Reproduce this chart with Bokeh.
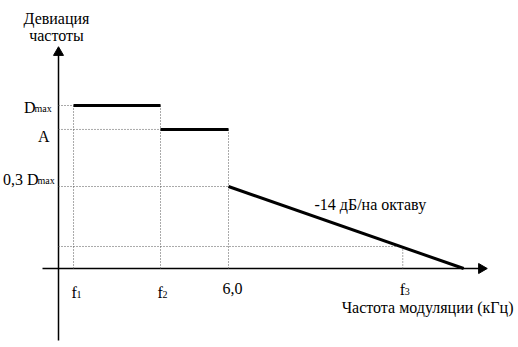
import math
from bokeh.plotting import figure
from bokeh.models import Range1d, Label
from bokeh.embed import file_html
from bokeh.resources import INLINE

# ---------------- data ----------------
# frequency marks on the x axis (kHz, schematic)
freq_labels = ["f", "f", "6,0", "f"]
freq_subs = ["1", "2", "", "3"]
freq_khz = [0.53, 3.6, 6.0, 12.15]
f_zero = 14.3          # where the -14 dB/octave slope meets the axis

# deviation levels (normalised, schematic)
level_main = ["D", "A", "0,3 D"]
level_subs = ["max", "", "max"]
level_vals = [1.0, 0.853, 0.503]
f3_level = 0.135

# plateau segments
plateau_x0 = [freq_khz[0], freq_khz[1]]
plateau_x1 = [freq_khz[1], freq_khz[2]]
plateau_y = [level_vals[0], level_vals[1]]
# sloped segment
slope_x = [freq_khz[2], f_zero]
slope_y = [level_vals[2], 0.0]

y_title = ["Девиация", "частоты"]
x_title = "Частота модуляции (кГц)"
slope_note = "-14 дБ/на октаву"

# ---------------- layout ----------------
W, H = 518, 347
OX, OY = 58, 268            # pixel position of the origin
KX = 170 / 6.0              # px per kHz
KY = 163.0                  # px per deviation unit

p = figure(width=W, height=H, output_backend="svg", toolbar_location=None,
           x_range=Range1d(-OX / KX, (W - OX) / KX),
           y_range=Range1d(-(H - OY) / KY, OY / KY),
           x_axis_type=None, y_axis_type=None, min_border=0)
p.grid.visible = False
p.outline_line_color = None

DOT = dict(line_color="#555555", line_width=1, line_dash="1 2")

# axes (lines + triangular arrow heads)
x_axis_start, x_axis_end = -16 / KX, 427 / KX
y_axis_start, y_axis_end = -72 / KY, 220 / KY
p.segment(x0=[x_axis_start, 0], y0=[0, y_axis_start],
          x1=[x_axis_end, 0], y1=[0, y_axis_end],
          line_color="black", line_width=1.5)
p.scatter(x=[x_axis_end - 4 / KX], y=[0], marker="triangle", size=10,
          angle=-math.pi / 2, fill_color="black", line_color="black")
p.scatter(x=[0], y=[y_axis_end - 4 / KY], marker="triangle", size=10,
          fill_color="black", line_color="black")

# dotted guides: horizontal
h_x0 = [0, 0, 0, 0]
h_x1 = [freq_khz[0], freq_khz[1], freq_khz[2], freq_khz[3]]
h_y = [level_vals[0], level_vals[1], level_vals[2], f3_level]
p.segment(x0=h_x0, y0=h_y, x1=h_x1, y1=h_y, **DOT)
# dotted guides: vertical
v_x = freq_khz
v_top = [level_vals[0], level_vals[0], level_vals[1], f3_level]
p.segment(x0=v_x, y0=[0] * 4, x1=v_x, y1=v_top, **DOT)

# response curve
p.segment(x0=plateau_x0, y0=plateau_y, x1=plateau_x1, y1=plateau_y,
          line_color="black", line_width=3)
p.line(slope_x, slope_y, line_color="black", line_width=3)


def label(x, y, text, dx, dy, size=16, align="left"):
    """dx: pixels to the right, dy: pixels downward from the data anchor."""
    p.add_layout(Label(x=x, y=y, text=text, x_offset=dx, y_offset=-dy,
                       text_font="Liberation Serif", text_font_size=f"{size}px",
                       text_baseline="alphabetic", text_align=align,
                       text_color="black"))


# y tick labels
label(0, level_vals[0], level_main[0], -23, 2, align="right")
label(0, level_vals[0], level_subs[0], -24, 3, size=10)
label(0, level_vals[1], level_main[1], -9, 7, align="right")
label(0, level_vals[2], level_main[2], -20, -7, align="right")
label(0, level_vals[2], level_subs[2], -21, -6, size=10)

# x tick labels
x_dx = [-2, -3, -6, -3]
x_dy = [24, 24, 20, 21]
for fx, lab, sub, dx, dy in zip(freq_khz, freq_labels, freq_subs, x_dx, x_dy):
    label(fx, 0, lab, dx, dy)
    if sub:
        label(fx, 0, sub, dx + 5, dy + 2, size=10)

# axis titles
label(0, y_axis_end, y_title[0], -2, -30, align="center")
label(0, y_axis_end, y_title[1], -2, -13, align="center")
label(x_axis_end, 0, x_title, 28, 39, align="right")
label(slope_x[0], slope_y[0], slope_note, 86, 18)

open("out.html", "w").write(file_html(p, INLINE))
